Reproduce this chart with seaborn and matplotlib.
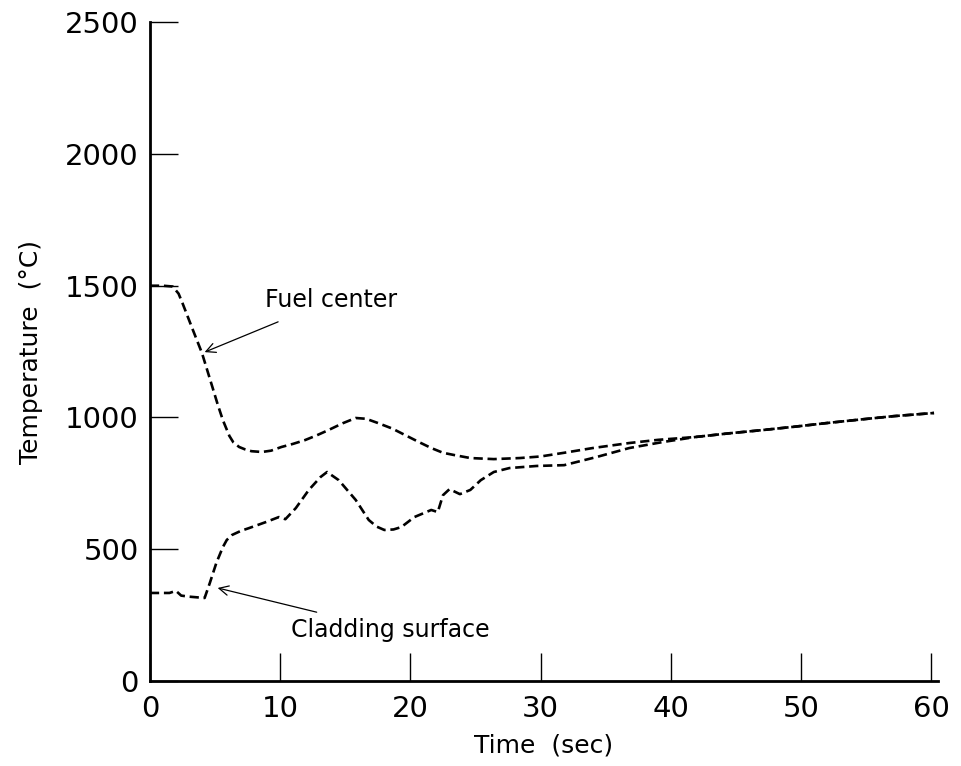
import matplotlib
matplotlib.use("Agg")
import matplotlib.pyplot as plt
import seaborn as sns
import pandas as pd

# Fuel center temperature (°C) vs time (s)
fuel_t = [0, 1.0, 1.75, 2.2, 2.5, 3.3, 4.0, 4.8, 5.2, 5.6, 6.1, 6.4, 6.85, 7.3, 7.8, 8.6, 9.3, 10.1,
          11.0, 11.9, 12.8, 13.7, 14.8, 15.8, 16.6, 17.5, 18.6, 19.6, 20.6, 21.6, 22.5, 23.4,
          24.6, 26.4, 28.4, 30.0, 31.8, 34.0, 36.8, 39.0, 41.9, 44.5, 47.0, 49.5, 52.0, 54.5,
          57.1, 60.2]
fuel_T = [1500, 1500, 1497, 1470, 1434, 1332, 1244, 1115, 1050, 990, 930, 906, 888, 879, 872, 869,
          874, 888, 900, 914, 932, 952, 978, 998, 995, 979, 958, 933, 908, 884, 866, 857,
          846, 842, 846, 852, 866, 884, 903, 915, 926, 940, 952, 965, 979, 992, 1005, 1017]

# Cladding surface temperature (°C) vs time (s)
clad_t = [0, 1.5, 2.0, 2.4, 3.0, 4.2, 4.6, 5.1, 5.6, 5.9, 6.3, 7.0, 7.6, 8.9, 9.9, 10.4, 11.2,
          12.2, 13.1, 13.6, 14.5, 15.8, 16.8, 17.4, 18.0, 18.7, 19.3, 20.3, 21.6, 22.1, 22.5,
          23.0, 23.8, 24.6, 25.4, 26.4, 27.6, 29.7, 31.8, 34.3, 36.8, 39.4, 41.9, 44.5, 47.0,
          49.5, 52.0, 54.5, 57.1, 60.2]
clad_T = [334, 334, 342, 324, 320, 315, 372, 448, 508, 535, 554, 570, 580, 603, 622, 614, 656,
          725, 774, 793, 762, 687, 611, 586, 573, 575, 584, 622, 649, 641, 705,
          728, 709, 725, 762, 793, 808, 816, 819, 850, 884, 907, 926, 940, 952,
          965, 979, 992, 1005, 1017]

series_names = ["Fuel center", "Cladding surface"]
x_ticks = [0, 10, 20, 30, 40, 50, 60]
y_ticks = [0, 500, 1000, 1500, 2000, 2500]

df = pd.concat([
    pd.DataFrame({"Time": fuel_t, "Temp": fuel_T, "Series": series_names[0]}),
    pd.DataFrame({"Time": clad_t, "Temp": clad_T, "Series": series_names[1]}),
], ignore_index=True)

sns.set_style("ticks")
plt.rcParams['font.family'] = ['DejaVu Sans']
for k in ["text.color", "axes.labelcolor", "xtick.color", "ytick.color", "axes.edgecolor"]:
    plt.rcParams[k] = "black"

fig = plt.figure(figsize=(9.61, 7.66), dpi=100)
ax = fig.add_axes([0.156, 0.111, 0.82, 0.86])

sns.lineplot(data=df, x="Time", y="Temp", hue="Series", style="Series",
             palette={series_names[0]: "black", series_names[1]: "black"},
             dashes={series_names[0]: (3.5, 1.8), series_names[1]: (3.5, 1.8)},
             linewidth=1.9, legend=False, sort=False, estimator=None, ax=ax)

ax.set_xlim(0, 60.5)
ax.set_ylim(0, 2500)
ax.set_xticks(x_ticks)
ax.set_yticks(y_ticks)
ax.set_xticklabels([str(v) for v in x_ticks], fontsize=21)
ax.set_yticklabels([str(v) for v in y_ticks], fontsize=21)
ax.tick_params(direction="in", length=20, width=1.0, pad=8)
ax.tick_params(axis="x", pad=10)
for s in ["top", "right"]:
    ax.spines[s].set_visible(False)
for s in ["left", "bottom"]:
    ax.spines[s].set_linewidth(2.0)

ax.set_xlabel("Time  (sec)", fontsize=18, labelpad=8)
ax.set_ylabel("Temperature  (°C)", fontsize=18, labelpad=16)

ax.annotate("Fuel center", xy=(4.2, 1248), xytext=(8.8, 1445),
            fontsize=17, va="center", ha="left",
            arrowprops=dict(arrowstyle="->", color="black", lw=0.9,
                            shrinkA=12, shrinkB=0))
ax.annotate("Cladding surface", xy=(5.2, 353), xytext=(10.8, 193),
            fontsize=17, va="center", ha="left",
            arrowprops=dict(arrowstyle="->", color="black", lw=0.9,
                            shrinkA=8, shrinkB=0))

fig.savefig("out.png", dpi=100)
